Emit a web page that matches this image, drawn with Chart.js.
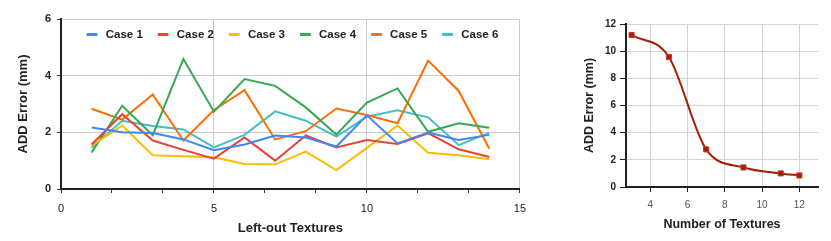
<!DOCTYPE html>
<html>
<head>
<meta charset="utf-8">
<script src="https://cdn.jsdelivr.net/npm/chart.js@4/dist/chart.umd.min.js"></script>
<style>
  html, body { margin: 0; padding: 0; background: #fff; }
  #wrap { position: relative; width: 831px; height: 241px; }
  #leftBox { position: absolute; left: 0; top: 0; width: 535px; height: 241px; }
  #rightBox { position: absolute; left: 535px; top: 0; width: 296px; height: 241px; }
</style>
</head>
<body>
<div id="wrap">
  <div id="leftBox"><canvas id="leftChart" width="535" height="241"></canvas></div>
  <div id="rightBox"><canvas id="rightChart" width="296" height="241"></canvas></div>
</div>
<script>
// ---- left chart data ----
const leftOut = [1, 2, 3, 4, 5, 6, 7, 8, 9, 10, 11, 12, 13, 14];
const caseLabels = ['Case 1', 'Case 2', 'Case 3', 'Case 4', 'Case 5', 'Case 6'];
const case1 = [2.17, 2.00, 1.98, 1.75, 1.37, 1.57, 1.89, 1.82, 1.50, 2.60, 1.61, 1.99, 1.73, 1.91];
const case2 = [1.57, 2.64, 1.71, 1.38, 1.07, 1.82, 1.00, 1.89, 1.47, 1.73, 1.59, 1.97, 1.40, 1.13];
const case3 = [1.52, 2.24, 1.19, 1.16, 1.12, 0.88, 0.87, 1.32, 0.67, 1.45, 2.24, 1.28, 1.19, 1.05];
const case4 = [1.29, 2.94, 1.90, 4.59, 2.73, 3.88, 3.64, 2.88, 1.92, 3.05, 3.55, 2.02, 2.32, 2.16];
const case5 = [2.83, 2.45, 3.34, 1.71, 2.79, 3.49, 1.75, 2.04, 2.84, 2.61, 2.32, 4.53, 3.46, 1.42];
const case6 = [1.46, 2.41, 2.22, 2.10, 1.47, 1.91, 2.74, 2.41, 1.85, 2.55, 2.78, 2.53, 1.55, 1.99];
const caseColors = ['#4285f4', '#ea4335', '#fbbc04', '#34a853', '#ff6d01', '#46bdc6'];
const leftYTicks = [0, 2, 4, 6];
const leftXLabels = [0, 5, 10, 15];

// ---- right chart data ----
const numTextures = [3, 5, 7, 9, 11, 12];
const addError = [11.19, 9.57, 2.77, 1.44, 1.00, 0.85];
const rightXTicks = [4, 6, 8, 10, 12];
const rightYTicks = [0, 2, 4, 6, 8, 10, 12];

const FONT = "Arial, 'Liberation Sans', sans-serif";
Chart.defaults.font.family = FONT;
Chart.defaults.color = '#000';

function pts(xs, ys) { return xs.map((x, i) => ({ x: x, y: ys[i] })); }

// legend drawn inside the plot area
const insideLegend = {
  id: 'insideLegend',
  afterDatasetsDraw(chart) {
    const ctx = chart.ctx;
    ctx.save();
    ctx.font = 'bold 11.5px ' + FONT;
    ctx.textBaseline = 'middle';
    chart.data.datasets.forEach((ds, i) => {
      const x = 86.7 + i * 71.1;
      const y = 34.5;
      ctx.fillStyle = ds.borderColor;
      ctx.fillRect(x, y - 1.5, 10.7, 3);
      ctx.fillStyle = '#222';
      ctx.fillText(ds.label, x + 19, y);
    });
    ctx.restore();
  }
};

const caseData = [case1, case2, case3, case4, case5, case6];

new Chart(document.getElementById('leftChart'), {
  type: 'line',
  data: {
    datasets: caseData.map((vals, i) => ({
      label: caseLabels[i],
      data: pts(leftOut, vals),
      borderColor: caseColors[i],
      backgroundColor: caseColors[i],
      borderWidth: 2,
      pointRadius: 0,
      tension: 0
    }))
  },
  options: {
    responsive: false,
    animation: false,
    layout: { padding: { top: 19, right: 13, left: 0, bottom: 0 } },
    plugins: { legend: { display: false }, tooltip: { enabled: false } },
    scales: {
      x: {
        type: 'linear',
        min: 0, max: 15,
        afterBuildTicks: s => {
          const t = [];
          for (let k = 0; k <= 9; k++) t.push({ value: k * 5 / 3 });
          s.ticks = t;
        },
        afterFit: s => { s.height = 52; },
        ticks: {
          autoSkip: false,
          maxRotation: 0,
          padding: 9,
          font: { size: 11 },
          color: '#222',
          callback: v => {
            const r = Math.round(v);
            return (Math.abs(v - r) < 1e-6 && leftXLabels.includes(r)) ? String(r) : '';
          }
        },
        grid: {
          color: c => {
            const v = c.tick ? c.tick.value : 0;
            const r = Math.round(v);
            return (Math.abs(v - r) < 1e-6 && r % 5 === 0 && r !== 0) ? '#cccccc' : 'rgba(0,0,0,0)';
          },
          tickColor: '#333',
          tickLength: 4,
          lineWidth: 1
        },
        border: { color: '#222', width: 2 },
        title: {
          display: true,
          text: 'Left-out Textures',
          font: { size: 13, weight: 'bold' },
          color: '#222',
          padding: { top: 0, bottom: 5 }
        }
      },
      y: {
        min: 0, max: 6,
        afterBuildTicks: s => { s.ticks = leftYTicks.map(v => ({ value: v })); },
        afterFit: s => { s.width = 61; },
        ticks: {
          padding: 6,
          font: { size: 11, weight: 'bold' },
          color: '#222'
        },
        grid: {
          color: c => (c.tick && c.tick.value === 0) ? 'rgba(0,0,0,0)' : '#cccccc',
          tickColor: '#333',
          tickLength: 4,
          lineWidth: 1
        },
        border: { color: '#222', width: 2 },
        title: {
          display: true,
          text: 'ADD Error (mm)',
          font: { size: 13, weight: 'bold' },
          color: '#222',
          padding: { top: 16, bottom: 0 }
        }
      }
    }
  },
  plugins: [insideLegend]
});

new Chart(document.getElementById('rightChart'), {
  type: 'line',
  data: {
    datasets: [{
      label: 'ADD Error',
      data: pts(numTextures, addError),
      borderColor: '#a31f05',
      backgroundColor: '#a31f05',
      borderWidth: 2,
      pointStyle: 'rect',
      pointRadius: 3.6,
      pointBorderWidth: 1,
      pointBorderColor: '#c0392b',
      cubicInterpolationMode: 'monotone'
    }]
  },
  options: {
    responsive: false,
    animation: false,
    layout: { padding: { top: 24, right: 13, left: 0, bottom: 0 } },
    plugins: { legend: { display: false }, tooltip: { enabled: false } },
    scales: {
      x: {
        type: 'linear',
        min: 2.7, max: 13,
        afterBuildTicks: s => { s.ticks = rightXTicks.map(v => ({ value: v })); },
        afterFit: s => { s.height = 54; },
        ticks: {
          autoSkip: false,
          maxRotation: 0,
          padding: 7,
          font: { size: 10 },
          color: '#555'
        },
        grid: {
          color: '#d4d4d4',
          tickColor: '#222',
          tickLength: 5,
          lineWidth: 1
        },
        border: { color: '#222', width: 2 },
        title: {
          display: true,
          text: 'Number of Textures',
          font: { size: 12.5, weight: 'bold' },
          color: '#222',
          padding: { top: 0, bottom: 9 }
        }
      },
      y: {
        min: 0, max: 12,
        afterBuildTicks: s => { s.ticks = rightYTicks.map(v => ({ value: v })); },
        afterFit: s => { s.width = 91; },
        ticks: {
          padding: 4,
          font: { size: 10, weight: 'bold' },
          color: '#222'
        },
        grid: {
          color: c => (c.tick && c.tick.value === 0) ? 'rgba(0,0,0,0)' : '#d4d4d4',
          tickColor: '#222',
          tickLength: 6,
          lineWidth: 1
        },
        border: { color: '#222', width: 2 },
        title: {
          display: true,
          text: 'ADD Error (mm)',
          font: { size: 12.5, weight: 'bold' },
          color: '#222',
          padding: { top: 47, bottom: 0 }
        }
      }
    }
  }
});
</script>
</body>
</html>
